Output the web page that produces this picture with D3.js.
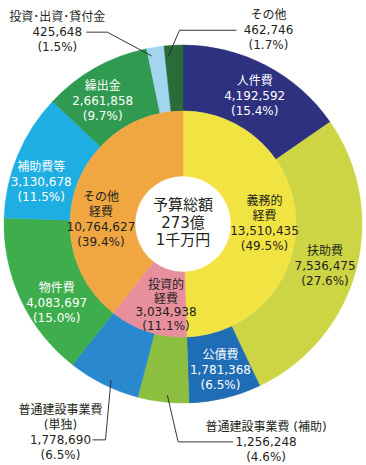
<!DOCTYPE html>
<html><head><meta charset="utf-8">
<script src="https://cdn.jsdelivr.net/npm/d3@7/dist/d3.min.js"></script>
<style>
html,body{margin:0;padding:0;background:#fff;}
svg text{font-family:"DejaVu Sans","Noto Sans CJK JP",sans-serif;}
</style></head>
<body><svg id="c" width="366" height="465"></svg>
<script>
// ---- data ----
const outerNames = ["人件費","扶助費","公債費","普通建設事業費 (補助)","普通建設事業費(単独)","物件費","補助費等","繰出金","投資･出資･貸付金","その他"];
const outerValues = [4192592,7536475,1781368,1256248,1778690,4083697,3130678,2661858,425648,462746];
const outerPct = ["15.4","27.6","6.5","4.6","6.5","15.0","11.5","9.7","1.5","1.7"];
const innerNames = ["義務的経費","投資的経費","その他経費"];
const innerValues = [13510435,3034938,10764627];
const innerPct = ["49.5","11.1","39.4"];
const centerLines = ["予算総額","273億","1千万円"];

// ---- styles ----
const outerColors = ["#2e3180","#cdd544","#1f6db4","#8cbe3f","#2a88cf","#3ead4b","#1eaee2","#2f9a50","#a3d5ef","#2a6b3a"];
const innerColors = ["#f1e442","#e88f9e","#f0a742"];
const outerTextColor = ["#fff","#231f20","#fff",null,null,"#fff","#fff","#fff",null,null];
// text line splits
const outerLabelLines = [
  ["人件費"],["扶助費"],["公債費"],["普通建設事業費 (補助)"],["普通建設事業費","(単独)"],
  ["物件費"],["補助費等"],["繰出金"],["投資･出資･貸付金"],["その他"]];
const innerLabelLines = [["義務的","経費"],["投資的","経費"],["その他","経費"]];
// label placement: inside (centroid radius + offset) or outside (with leader)
const outerLabelCfg = [
  {r:146, off:[4,1]},
  {r:146, off:[1,4]},
  {r:146, off:[3,4]},
  {r:179, off:[103,40], leader:{frac:0.43, r:172, pts:[[-33,0],[-88,0]], lineIdx:1}},
  {r:179, off:[-43,48], leader:{frac:0.43, r:172, pts:[[32,7],[45,7]], lineIdx:2}},
  {r:146, off:[6,17]},
  {r:146, off:[-7,14]},
  {r:146, off:[-9,4]},
  {r:179, off:[-98,-15], leader:{frac:0.2, r:171, pts:[[29,0],[50,0]], lineIdx:1}},
  {r:179, off:[95,-15], leader:{frac:0.2, r:169, pts:[[-32,0],[-89,0]], lineIdx:1}}
];
const innerLabelCfg = [{off:[1,1],lh:15},{off:[8,5],lh:13.8},{off:[-6,22],lh:15}];

const fmt = d3.format(",");
const cx=183, cy=224, R0=48, R1=113, R2=179;
const svg = d3.select("#c");
const g = svg.append("g").attr("transform",`translate(${cx},${cy})`);

const pie = d3.pie().sort(null).value(d=>d);
const outerArcs = pie(outerValues);
const innerArcs = pie(innerValues);
const arcOuter = d3.arc().innerRadius(R1).outerRadius(R2);
const arcInner = d3.arc().innerRadius(R0).outerRadius(R1);

g.selectAll("path.o").data(outerArcs).join("path").attr("class","o")
  .attr("d",arcOuter).attr("fill",(d,i)=>outerColors[i])
  .attr("stroke",(d,i)=>outerColors[i]).attr("stroke-width",0.5);
g.selectAll("path.i").data(innerArcs).join("path").attr("class","i")
  .attr("d",arcInner).attr("fill",(d,i)=>innerColors[i])
  .attr("stroke",(d,i)=>innerColors[i]).attr("stroke-width",0.5);

function polar(a,r){return [Math.sin(a)*r, -Math.cos(a)*r];}

function drawLabel(lines, x, y, lh, color, size){
  const n=lines.length;
  const t = g.append("g");
  lines.forEach((s,k)=>{
    t.append("text").attr("x",x).attr("y",y+(k-(n-1)/2)*lh)
      .attr("text-anchor","middle").attr("dominant-baseline","central")
      .attr("font-size",size).attr("fill",color).text(s);
  });
}

// outer labels
outerArcs.forEach((d,i)=>{
  const cfg=outerLabelCfg[i];
  const mid=(d.startAngle+d.endAngle)/2;
  const p=polar(mid,cfg.r);
  const x=p[0]+cfg.off[0], y=p[1]+cfg.off[1];
  const lines=outerLabelLines[i].concat([fmt(outerValues[i]),"("+outerPct[i]+"%)"]);
  const color=outerTextColor[i]||"#231f20";
  const lh=15;
  drawLabel(lines,x,y,lh,color,12);
  if(cfg.leader){
    const L=cfg.leader;
    const a=d.startAngle+(d.endAngle-d.startAngle)*L.frac;
    const e=polar(a,L.r);
    const ly=y+(L.lineIdx-(lines.length-1)/2)*lh;
    const path=d3.line()([[x+L.pts[0][0],ly],[x+L.pts[1][0],ly],e]);
    g.append("path").attr("d",path).attr("fill","none").attr("stroke","#231f20").attr("stroke-width",0.9);
  }
});

// inner labels
innerArcs.forEach((d,i)=>{
  const cfg=innerLabelCfg[i];
  const c=arcInner.centroid(d);
  const lines=innerLabelLines[i].concat([fmt(innerValues[i]),"("+innerPct[i]+"%)"]);
  drawLabel(lines,c[0]+cfg.off[0],c[1]+cfg.off[1],cfg.lh,"#231f20",12);
});

// center
centerLines.forEach((s,k)=>{
  g.append("text").attr("x",0).attr("y",-19+k*17.5)
    .attr("text-anchor","middle").attr("dominant-baseline","central")
    .attr("font-size",15).attr("fill","#231f20").text(s);
});
</script></body></html>
